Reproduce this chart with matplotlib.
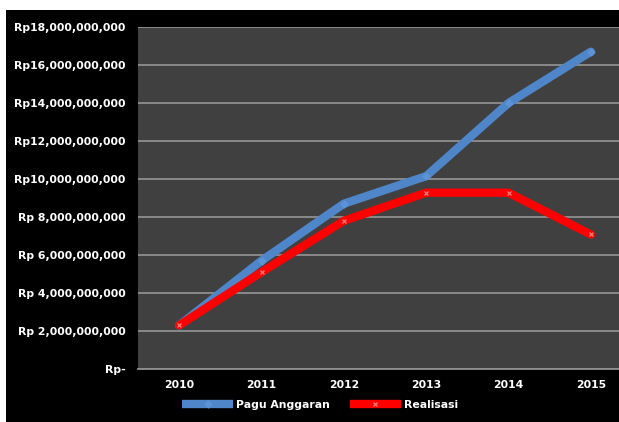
import matplotlib
matplotlib.use("Agg")
import matplotlib.pyplot as plt
from matplotlib.patches import Rectangle
from matplotlib.lines import Line2D
from matplotlib.ticker import FixedLocator, FixedFormatter

years = ["2010", "2011", "2012", "2013", "2014", "2015"]
pagu_anggaran = [2.3e9, 5.7e9, 8.7e9, 10.15e9, 14.0e9, 16.7e9]
realisasi = [2.3e9, 5.1e9, 7.8e9, 9.28e9, 9.28e9, 7.08e9]
y_ticks = [0, 2e9, 4e9, 6e9, 8e9, 10e9, 12e9, 14e9, 16e9, 18e9]
y_labels = ["Rp-", "Rp 2,000,000,000", "Rp 4,000,000,000", "Rp 6,000,000,000",
            "Rp 8,000,000,000", "Rp10,000,000,000", "Rp12,000,000,000",
            "Rp14,000,000,000", "Rp16,000,000,000", "Rp18,000,000,000"]
series_names = ["Pagu Anggaran", "Realisasi"]

BLUE = "#4f86c9"
RED = "#ff0000"

W, H = 619, 422
fig = plt.figure(figsize=(W / 100, H / 100), dpi=100)
fig.patch.set_facecolor("black")
# white strips at top and left of the picture
fig.patches.append(Rectangle((0, 1 - 10 / H), 1, 10 / H, transform=fig.transFigure,
                             facecolor="white", edgecolor="none", zorder=5))
fig.patches.append(Rectangle((0, 0), 6 / W, 1, transform=fig.transFigure,
                             facecolor="white", edgecolor="none", zorder=5))

left, right, top, bottom = 138, 632, 27, 369
ax = fig.add_axes([left / W, (H - bottom) / H, (right - left) / W, (bottom - top) / H])
ax.set_facecolor("#404040")

x = list(range(len(years)))
ax.plot(x, pagu_anggaran, color=BLUE, lw=6.0, marker="D", ms=3.5,
        mfc="#5b93d6", mec="#5b93d6", solid_joinstyle="round", solid_capstyle="round",
        zorder=3)
ax.plot(x, realisasi, color=RED, lw=6.0, marker="x", ms=3.5, mew=1,
        mec="#ff7070", solid_joinstyle="round", solid_capstyle="round",
        zorder=4)

ax.set_xlim(-0.5, len(years) - 0.5)
ax.set_ylim(0, 18e9)
ax.yaxis.set_major_locator(FixedLocator(y_ticks))
ax.yaxis.set_major_formatter(FixedFormatter(y_labels))
ax.set_xticks(x)
ax.set_xticklabels(years)
ax.grid(axis="y", color="#8f8f8f", lw=1.3)
ax.set_axisbelow(True)
for s in ["top", "right", "left"]:
    ax.spines[s].set_visible(False)
ax.spines["bottom"].set_color("#8f8f8f")
ax.spines["bottom"].set_linewidth(1.3)
ax.tick_params(axis="both", length=0, colors="white", labelsize=7.8)
for lab in ax.get_xticklabels() + ax.get_yticklabels():
    lab.set_fontweight("bold")
ax.tick_params(axis="y", pad=9)
ax.tick_params(axis="x", pad=8)

handles = [
    Line2D([], [], color=BLUE, lw=6.0, solid_capstyle="butt", marker="D", ms=3.5,
           mfc="#5b93d6", mec="#5b93d6"),
    Line2D([], [], color=RED, lw=6.0, solid_capstyle="butt", marker="x", ms=3.5,
           mew=1, mec="#ff7070"),
]
leg = fig.legend(handles, series_names, loc="center", bbox_to_anchor=(320 / W, 1 - 405 / H),
                 ncol=2, frameon=False, handlelength=4.7, columnspacing=1.8,
                 handletextpad=0.3, prop={"size": 7.8, "weight": "bold"})
for t in leg.get_texts():
    t.set_color("white")

fig.savefig("out.png", dpi=100, facecolor=fig.get_facecolor())
